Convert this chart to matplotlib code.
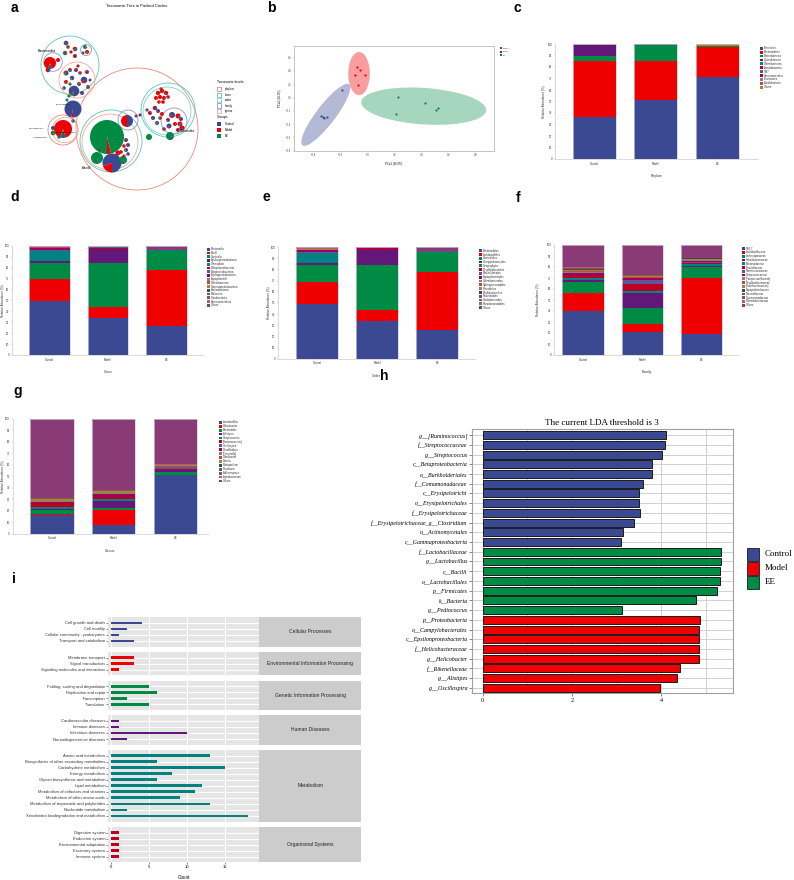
import numpy as np
import matplotlib
matplotlib.use('Agg')
import matplotlib.pyplot as plt
from matplotlib.patches import Rectangle, Circle, Ellipse

plt.rcParams['font.family'] = ['Liberation Sans', 'DejaVu Sans']

# ---------------- data ----------------
groups = ['Control', 'Model', 'EE']
group_colors = ['#3B4992', '#EE0000', '#008B45']

# panel a: packed circles (layout)
ring_level = ['phylum', 'class', 'genus', 'class', 'order', 'family', 'class', 'genus',
              'family', 'family', 'phylum', 'genus', 'family']
ring_x = [137, 111, 110, 168, 167, 174, 70, 77, 86, 53, 63, 65, 128]
ring_y = [129, 141, 142, 110, 111, 121, 65, 80, 50, 62, 130, 130, 120]
ring_r = [61, 31, 28, 27, 24, 13, 29, 18, 5.5, 9.3, 15, 12.7, 10]
level_names = ['phylum', 'class', 'order', 'family', 'genus']
level_colors = ['#F0877C', '#5EC4B6', '#7FD3CC', '#8C96C6', '#F4A69A']

pie_x = [50, 58, 48, 66, 68, 75, 65, 75, 71, 85, 87, 83,
         74, 84, 66, 70, 76, 80, 72, 79, 87, 88, 66, 64, 82, 70, 90, 69, 78,
         73, 67, 63, 53, 53, 59, 73,
         107, 112, 97, 123, 126, 128, 124, 126, 121, 128, 124, 118, 99, 127, 136, 140, 149,
         158, 162, 166, 156, 160, 164, 168, 159, 163, 161,
         155, 150, 158, 153, 162, 157, 147,
         172, 178, 168, 169, 175, 180, 182, 178, 170, 181, 164, 160]
pie_y = [63, 60, 70, 43, 47, 49, 53, 56, 52, 47, 52, 53,
         91, 80, 73, 70, 70, 73, 78, 84, 72, 87, 82, 88, 93, 84, 80, 96, 66,
         109, 100, 129, 128, 133, 137, 121,
         137, 163, 158, 160, 140, 145, 146, 150, 152, 154, 156, 153, 150, 121, 116, 115, 137,
         93, 91, 93, 98, 97, 98, 97, 102, 102, 89,
         108, 113, 111, 118, 114, 123, 110,
         115, 116, 120, 126, 124, 124, 128, 130, 136, 119, 129, 118]
pie_r = [6, 2, 2.3, 2.3, 1.8, 2.3, 2.2, 2, 1.6, 2, 2, 1.5,
         5.3, 3.3, 2.5, 2, 2, 1.8, 2.2, 2, 2, 2, 2, 1.8, 2, 1.6, 1.5, 1.6, 1.6,
         8.5, 1.5, 9, 2, 2.3, 1.7, 1.7,
         17, 9.5, 6, 4, 2, 2, 1.8, 2, 1.8, 1.8, 1.6, 2.6, 1.5, 6, 1.5, 1.5, 3,
         2.2, 2.2, 2.2, 2, 2, 2, 1.8, 1.8, 1.8, 1.6,
         2.2, 2, 2, 2, 2, 2, 1.6,
         3, 2.5, 2, 2.5, 2, 2.5, 2.5, 2, 4, 2, 1.8, 1.8]
pie_frac = [(.05, .9, .05), (0, 1, 0), (.5, .5, 0), (.85, .15, 0), (.2, .3, .5), (.4, .4, .2),
            (.3, .2, .5), (.5, .5, 0), (0, 1, 0), (.1, .2, .7), (.1, .8, .1), (.8, .1, .1),
            (.9, .05, .05), (.85, .15, 0), (.6, .2, .2), (.3, .5, .2), (.7, .3, 0), (.2, .6, .2),
            (.8, .1, .1), (.3, .3, .4), (.6, .4, 0), (.4, .3, .3), (.2, .7, .1), (.7, .2, .1),
            (.9, .1, 0), (0, .3, .7), (.7, .3, 0), (.2, 0, .8), (.3, .7, 0),
            (.97, .03, 0), (0, 0, 1), (.05, .9, .05), (.9, .1, 0), (0, .1, .9), (.9, .1, 0), (.3, .3, .4),
            (0, .04, .96), (.8, .2, 0), (.05, 0, .95), (.1, 0, .9), (.7, .3, 0), (.8, .2, 0),
            (.3, .7, 0), (.6, .2, .2), (0, 1, 0), (.9, .1, 0), (.4, .6, 0), (.1, .9, 0),
            (.2, .3, .5), (.5, .5, 0), (.8, .2, 0), (.5, .5, 0), (0, 0, 1),
            (0, 1, 0), (.1, .9, 0), (0, .9, .1), (.1, .9, 0), (0, 1, 0), (.2, .8, 0), (0, .8, .2),
            (.1, .9, 0), (0, 1, 0), (0, .7, .3),
            (.5, .5, 0), (.3, .7, 0), (.8, .2, 0), (.9, .1, 0), (.2, .8, 0), (.6, .2, .2), (.9, .1, 0),
            (.8, .2, 0), (.2, .8, 0), (.5, .3, .2), (.9, .1, 0), (.1, .9, 0), (.3, .6, .1),
            (.1, .9, 0), (.5, .5, 0), (.2, 0, .8), (.7, .3, 0), (.6, .4, 0), (0, .6, .4)]

# panel b: PCoA
pcoa_x = {'Control': [-0.346, -0.333, -0.321, -0.301, -0.193],
          'Model': [-0.077, -0.059, -0.091, -0.020, -0.069],
          'EE': [0.227, 0.427, 0.523, 0.506, 0.210]}
pcoa_y = {'Control': [-0.280, -0.300, -0.305, -0.290, 0.115],
          'Model': [0.455, 0.410, 0.345, 0.340, 0.185],
          'EE': [0.005, -0.075, -0.150, -0.185, -0.250]}

# stacked bar colours (legend order)
stack_colors = ['#3B4992', '#EE0000', '#008B45', '#631879', '#008280', '#BB0021', '#5F559B',
                '#A20056', '#808180', '#B84A55', '#A9823A', '#3E4756', '#4E5C8E', '#8C5A3C',
                '#B25C78', '#8A3B75']

phylum_names = ['Firmicutes', 'Bacteroidetes', 'Proteobacteria', 'Cyanobacteria', 'Deferribacteres',
                'Actinobacteria', 'TM7', 'Verrucomicrobia', 'Tenericutes', 'Acidobacteria', 'Others']
phylum_vals = [[36.5, 49.0, 4.0, 9.5, 0.1, 0.1, 0.1, 0.1, 0.1, 0.05, 0.45],
               [51.0, 34.0, 14.5, 0.1, 0.1, 0.05, 0.05, 0.05, 0.05, 0.05, 0.1],
               [71.5, 26.0, 0.5, 0.1, 0.1, 0.1, 0.05, 0.05, 0.05, 0.05, 1.5]]

class_names = ['Bacteroidia', 'Bacilli', 'Clostridia', 'Epsilonproteobacteria', 'Chloroplast',
               'Deltaproteobacteria', 'Betaproteobacteria', 'Alphaproteobacteria', 'Erysipelotrichi',
               'Deferribacteres', 'Gammaproteobacteria', 'Actinobacteria', 'Mollicutes',
               'Coriobacteriia', 'Verrucomicrobiae', 'Others']
class_vals = [[49.4, 19.8, 14.9, 1.6, 9.1, 0.6, 0.6, 1.5, 0.3, 0.6, 0.6, 0.2, 0.2, 0.2, 0.2, 0.2],
              [34.1, 9.5, 40.5, 12.5, 0.3, 1.4, 0.2, 0.3, 0.2, 0.2, 0.2, 0.1, 0.1, 0.1, 0.1, 0.2],
              [26.2, 51.8, 17.4, 0.2, 0.1, 0.1, 0.1, 0.1, 0.05, 0.05, 0.05, 0.05, 0.05, 0.05, 0.05, 3.65]]

order_names = ['Bacteroidales', 'Lactobacillales', 'Clostridiales', 'Campylobacterales', 'Streptophyta',
               'Desulfovibrionales', 'Burkholderiales', 'Erysipelotrichales', 'Deferribacterales',
               'Sphingomonadales', 'Rhizobiales', 'Bifidobacteriales', 'Rickettsiales',
               'Caulobacterales', 'Pseudomonadales', 'Others']
order_vals = [[49.1, 19.8, 15.5, 1.5, 8.7, 0.6, 0.8, 1.3, 0.3, 0.3, 0.5, 0.2, 0.2, 0.1, 0.1, 1.0],
              [33.5, 10.2, 40.7, 13.2, 0.2, 0.9, 0.1, 0.2, 0.2, 0.1, 0.1, 0.05, 0.05, 0.05, 0.05, 0.4],
              [26.0, 51.8, 18.0, 0.2, 0.1, 0.1, 0.05, 0.05, 0.05, 0.05, 0.05, 0.05, 0.05, 0.05, 0.05, 3.3]]

family_names = ['S24-7', 'Lactobacillaceae', 'Lachnospiraceae', 'Helicobacteraceae', 'Bacteroidaceae',
                'Rikenellaceae', 'Ruminococcaceae', 'Streptococcaceae', '[Paraprevotellaceae]',
                'Desulfovibrionaceae', '[Odoribacteraceae]', 'Erysipelotrichaceae', 'Prevotellaceae',
                'Comamonadaceae', 'Deferribacteraceae', 'Others']
family_vals = [[40.0, 16.7, 10.0, 1.5, 1.5, 1.8, 0.7, 2.7, 1.0, 0.5, 0.8, 0.8, 0.6, 0.5, 0.5, 20.4],
               [20.9, 7.6, 14.5, 13.0, 2.2, 6.6, 3.4, 1.5, 0.6, 0.6, 0.8, 0.3, 0.2, 0.3, 0.2, 27.3],
               [19.1, 51.2, 10.0, 0.6, 1.8, 1.2, 0.9, 1.0, 0.5, 0.5, 0.8, 0.2, 0.1, 0.1, 0.1, 11.9]]

genus_names = ['Lactobacillus', 'Helicobacter', 'Bacteroides', 'Alistipes', 'Streptococcus',
               '[Ruminococcus]', 'Oscillospira', 'Desulfovibrio', '[Prevotella]', 'Odoribacter',
               'Blautia', 'Mucispirillum', 'Roseburia', 'Akkermansia', 'Agrobacterium', 'Others']
genus_vals = [[16.2, 0.9, 3.5, 0.6, 2.3, 2.9, 0.6, 0.6, 0.6, 0.6, 1.2, 0.3, 0.2, 0.2, 0.2, 69.1],
              [7.5, 13.1, 2.0, 5.5, 1.8, 1.7, 0.6, 2.3, 0.5, 0.5, 1.2, 0.4, 0.3, 0.3, 0.3, 62.0],
              [51.0, 0.3, 2.6, 1.2, 0.6, 0.3, 1.7, 0.3, 0.4, 0.3, 0.9, 0.3, 0.1, 0.1, 0.1, 39.8]]

# panel h: LEfSe LDA scores
lda_names = ['g__[Ruminococcus]', 'f__Streptococcaceae', 'g__Streptococcus', 'c__Betaproteobacteria',
             'o__Burkholderiales', 'f__Comamonadaceae', 'c__Erysipelotrichi', 'o__Erysipelotrichales',
             'f__Erysipelotrichaceae', 'f__Erysipelotrichaceae_g__Clostridium', 'o__Actinomycetales',
             'c__Gammaproteobacteria', 'f__Lactobacillaceae', 'g__Lactobacillus', 'c__Bacilli',
             'o__Lactobacillales', 'p__Firmicutes', 'k__Bacteria', 'g__Pediococcus',
             'p__Proteobacteria', 'o__Campylobacterales', 'c__Epsilonproteobacteria',
             'f__Helicobacteraceae', 'g__Helicobacter', 'f__Rikenellaceae', 'g__Alistipes',
             'g__Oscillospira']
lda_values = [4.10, 4.09, 4.01, 3.80, 3.80, 3.60, 3.51, 3.51, 3.52, 3.40, 3.14, 3.10,
              5.34, 5.33, 5.32, 5.32, 5.25, 4.78, 3.11,
              4.87, 4.84, 4.84, 4.84, 4.84, 4.42, 4.35, 3.98]
lda_group = ['Control'] * 12 + ['EE'] * 7 + ['Model'] * 8

# panel i: KEGG level-2 counts
kegg_classes = ['Cellular Processes', 'Environmental Information Processing',
                'Genetic Information Processing', 'Human Diseases', 'Metabolism', 'Organismal Systems']
kegg_colors = ['#3B4992', '#EE0000', '#008B45', '#631879', '#008280', '#BB0021']
kegg_paths = [
    ['Cell growth and death', 'Cell motility', 'Cellular community - prokaryotes', 'Transport and catabolism'],
    ['Membrane transport', 'Signal transduction', 'Signaling molecules and interaction'],
    ['Folding, sorting and degradation', 'Replication and repair', 'Transcription', 'Translation'],
    ['Cardiovascular diseases', 'Immune diseases', 'Infectious diseases', 'Neurodegenerative diseases'],
    ['Amino acid metabolism', 'Biosynthesis of other secondary metabolites', 'Carbohydrate metabolism',
     'Energy metabolism', 'Glycan biosynthesis and metabolism', 'Lipid metabolism',
     'Metabolism of cofactors and vitamins', 'Metabolism of other amino acids',
     'Metabolism of terpenoids and polyketides', 'Nucleotide metabolism',
     'Xenobiotics biodegradation and metabolism'],
    ['Digestive system', 'Endocrine system', 'Environmental adaptation', 'Excretory system', 'Immune system']]
kegg_counts = [[4, 2, 1, 3], [3, 3, 1], [5, 6, 2, 5], [1, 1, 10, 2],
               [13, 6, 15, 8, 6, 12, 11, 9, 13, 2, 18], [1, 1, 1, 1, 1]]

# ---------------- figure ----------------
W, H = 794, 880
fig = plt.figure(figsize=(W / 100, H / 100), dpi=100)


def px_axes(left, top, right, bottom):
    return fig.add_axes([left / W, 1 - bottom / H, (right - left) / W, (bottom - top) / H])


def ftext(x, y, s, **kw):
    fig.text(x / W, 1 - y / H, s, **kw)


def fbox(x, y, w, h, **kw):
    fig.add_artist(Rectangle((x / W, 1 - (y + h) / H), w / W, h / H, transform=fig.transFigure, **kw))


# panel letters
for lab, (lx, ly) in zip('abcdefghi', [(14, 8), (271, 8), (517, 8), (15, 197), (266, 197),
                                      (518, 198), (18, 391), (384, 376), (14, 579)]):
    ftext(lx, ly, lab, fontsize=10, fontweight='bold', ha='center', va='center')

# ---- a: packed circles ----
ax = px_axes(0, 0, 270, 200)
for lev, x, y, r in zip(ring_level, ring_x, ring_y, ring_r):
    ax.add_patch(Circle((x, y), r, fill=False, lw=0.6,
                        edgecolor=level_colors[level_names.index(lev)], zorder=1))
for x, y, r, fr in zip(pie_x, pie_y, pie_r, pie_frac):
    ax.pie(fr, radius=r, center=(x, y), colors=group_colors, startangle=90,
           counterclock=False, wedgeprops={'linewidth': 0, 'zorder': 2})
ax.set_xlim(0, 270)
ax.set_ylim(200, 0)
ax.set_aspect('auto')
ax.axis('off')
ax.text(137, 6, 'Taxonomic Tree in Packed Circles', fontsize=3, ha='center', va='center')
ax.text(47, 51, 'Bacteroidia', fontsize=2.6, ha='center', va='center')
ax.text(87, 168, 'Bacilli', fontsize=2.6, style='italic', ha='center', va='center')
ax.text(188, 131, 'Clostridia', fontsize=2.6, ha='center', va='center')
ax.text(63, 104, 'Bacteroidaceae', fontsize=1.5, ha='center', va='center')
ax.text(44, 128, 'Campylobacterales', fontsize=1.3, ha='right', va='center')
ax.text(48, 137, 'Helicobacteraceae', fontsize=1.3, ha='right', va='center')
ax.text(66, 132, 'Epsilonproteobacteria', fontsize=1.5, ha='center', va='center')
ax.text(217, 82, 'Taxonomic levels', fontsize=2.5, va='center')
for k, (nm, col) in enumerate(zip(level_names, level_colors)):
    yy = 89.3 + k * 5.4
    ax.add_patch(Rectangle((217, yy - 2.1), 4.3, 4.3, fill=False, edgecolor=col, lw=0.6))
    ax.text(225, yy, nm, fontsize=2.2, va='center')
ax.text(217, 117.3, 'Groups', fontsize=2.5, va='center')
for k, (nm, col) in enumerate(zip(groups, group_colors)):
    yy = 124.3 + k * 5.7
    ax.add_patch(Rectangle((217, yy - 2.1), 4.3, 4.3, color=col, lw=0))
    ax.text(225, yy, nm, fontsize=2.2, va='center')

# ---- b: PCoA ----
ax = px_axes(294, 45.7, 494, 150.7)
ax.add_patch(Ellipse((-0.31, -0.26), 0.99, 0.165, angle=70.6, color='#3B4992', alpha=0.38, lw=0))
ax.add_patch(Ellipse((-0.064, 0.36), 0.16, 0.65, angle=0, color='#EE0000', alpha=0.38, lw=0))
ax.add_patch(Ellipse((0.415, -0.13), 0.937, 0.544, angle=-10.8, color='#008B45', alpha=0.35, lw=0))
for g, col in zip(groups, group_colors):
    ax.scatter(pcoa_x[g], pcoa_y[g], s=2.5, color=col, zorder=3, lw=0)
ax.set_xlim(-0.546, 0.936)
ax.set_ylim(-0.8, 0.78)
ax.set_xticks([-0.4, -0.2, 0, 0.2, 0.4, 0.6, 0.8])
ax.set_yticks([-0.8, -0.6, -0.4, -0.2, 0, 0.2, 0.4, 0.6])
ax.xaxis.set_major_formatter('{x:.1f}')
ax.yaxis.set_major_formatter('{x:.1f}')
ax.tick_params(labelsize=1.8, length=1, width=0.3, color='#999999', pad=1, labelcolor='#444444')
for s in ax.spines.values():
    s.set_color('#BBBBBB')
    s.set_linewidth(0.6)
ax.set_xlabel('PCo1 (36.9%)', fontsize=2, labelpad=3)
ax.set_ylabel('PCo2 (24.1%)', fontsize=2, labelpad=3)
for k, (nm, col) in enumerate(zip(groups, group_colors)):
    fbox(499.5, 47.3 + k * 3.4, 2, 2, color=col, lw=0)
    ftext(502.5, 48.3 + k * 3.4, nm, fontsize=1.6, va='center', color='#444444')


# ---- c-g: stacked bars ----
def stacked_panel(rect, xlim, names, values, xlabel, leg, ylab_gap):
    ax = px_axes(*rect)
    vals = np.array(values)
    x = np.arange(3)
    bottom = np.zeros(3)
    for k in range(len(names)):
        ax.bar(x, vals[:, k], 0.7, bottom=bottom, color=stack_colors[k], linewidth=0)
        bottom += vals[:, k]
    ax.bar(x, bottom, 0.7, fill=False, edgecolor='#CFCBE2', linewidth=0.5)
    ax.set_xlim(*xlim)
    ax.set_ylim(0, 100)
    ax.set_yticks(range(0, 101, 10))
    ax.set_xticks(x)
    ax.set_xticklabels(groups)
    ax.tick_params(labelsize=2, length=1, width=0.3, color='#999999', pad=1, labelcolor='#333333')
    for s in ['top', 'right']:
        ax.spines[s].set_visible(False)
    for s in ['left', 'bottom']:
        ax.spines[s].set_color('#CCCCCC')
        ax.spines[s].set_linewidth(0.5)
    ax.set_ylabel('Relative Abundance (%)', fontsize=2.2, color='#333333', va='center')
    ax.yaxis.set_label_coords(-ylab_gap / (rect[2] - rect[0]), 0.5)
    ax.set_xlabel(xlabel, fontsize=2.5, labelpad=6, color='#333333')
    lx, ly0, dy = leg
    for k, nm in enumerate(names):
        fbox(lx, ly0 + k * dy - 1.4, 2.8, 2.8, color=stack_colors[k], lw=0)
        ftext(lx + 3.8, ly0 + k * dy, nm, fontsize=2, va='center', color='#333333')


stacked_panel((555, 44, 758, 159), (-0.64, 2.66), phylum_names, phylum_vals, 'Phylum', (760, 48.3, 3.9), 11)
stacked_panel((12, 245.7, 204, 355), (-0.64, 2.64), class_names, class_vals, 'Class', (207.3, 249.3, 3.73), 9)
stacked_panel((278, 247.3, 475, 358.7), (-0.65, 2.63), order_names, order_vals, 'Order', (479, 250.7, 3.8), 9)
stacked_panel((554, 245, 739.5, 355), (-0.49, 2.64), family_names, family_vals, 'Family', (741.7, 248.7, 3.77), 16)
stacked_panel((12.5, 418.7, 208, 533.7), (-0.64, 2.53), genus_names, genus_vals, 'Genus', (219, 422.3, 3.91), 9)

# ---- h: LDA ----
ax = px_axes(471.7, 429.3, 732.7, 692.7)
lda_cols = [group_colors[groups.index(g)] for g in lda_group]
ax.barh(np.arange(len(lda_names)), lda_values, height=0.82, color=lda_cols,
        edgecolor='#1A1A1A', linewidth=0.7, zorder=3)
ax.set_ylim(len(lda_names) - 0.5, -0.6)
ax.set_xlim(-0.246, 5.6)
ax.set_xticks([0, 2, 4])
ax.set_xticks([1, 3, 5], minor=True)
ax.set_yticks(np.arange(len(lda_names)))
ax.set_yticklabels(lda_names, fontsize=4.3, family='Liberation Serif', style='italic')
ax.grid(which='both', color='#D0D0D0', lw=0.7)
ax.set_axisbelow(True)
ax.tick_params(axis='x', which='major', labelsize=4.5, length=2, width=0.5, color='#555555', pad=2)
ax.tick_params(axis='x', which='minor', length=0)
ax.tick_params(axis='y', length=2, width=0.5, color='#555555', pad=1)
for t in ax.get_xticklabels():
    t.set_family('Liberation Serif')
for s in ax.spines.values():
    s.set_color('#A0A0A0')
    s.set_linewidth(0.8)
ax.set_title('The current LDA threshold is 3', fontsize=6.5, family='Liberation Serif', pad=3)
for k, (nm, col) in enumerate(zip(groups, group_colors)):
    fbox(746.7, 547.7 + k * 14, 12.6, 13, facecolor=col, edgecolor='#1A1A1A', lw=0.6)
    ftext(765, 554.3 + k * 14, nm, fontsize=6.5, family='Liberation Serif', va='center')

# ---- i: KEGG ----
top = 617.3
for i, (cat, paths, counts, col) in enumerate(zip(kegg_classes, kegg_paths, kegg_counts, kegg_colors)):
    n = len(paths)
    h = (n - 1) * 6.03 + 11.2
    ax = px_axes(108.3, top, 259.3, top + h)
    ax.barh(np.arange(n), counts, height=0.45, color=col, zorder=3)
    ax.set_ylim(n - 1 + 0.93, -0.93)
    ax.set_xlim(-0.4, 19.5)
    ax.set_facecolor('#E5E5E5')
    ax.set_xticks([0, 5, 10, 15])
    ax.set_yticks(np.arange(n))
    ax.set_yticklabels(paths, fontsize=3, color='#333333')
    ax.grid(color='white', lw=0.8)
    ax.set_axisbelow(True)
    for s in ax.spines.values():
        s.set_visible(False)
    ax.tick_params(length=1.2, width=0.4, color='#333333', pad=1, labelsize=3)
    if i < len(kegg_classes) - 1:
        ax.tick_params(axis='x', length=0, labelbottom=False)
    else:
        ax.set_xlabel('Count', fontsize=3.3, labelpad=4)
    st = px_axes(259.3, top, 361, top + h)
    st.set_facecolor('#CCCCCC')
    st.set_xticks([])
    st.set_yticks([])
    for s in st.spines.values():
        s.set_visible(False)
    st.text(0.5, 0.5, cat, fontsize=3.6, ha='center', va='center', color='#222222',
            transform=st.transAxes)
    top += h + 5.4

fig.savefig('out.png', dpi=100)
